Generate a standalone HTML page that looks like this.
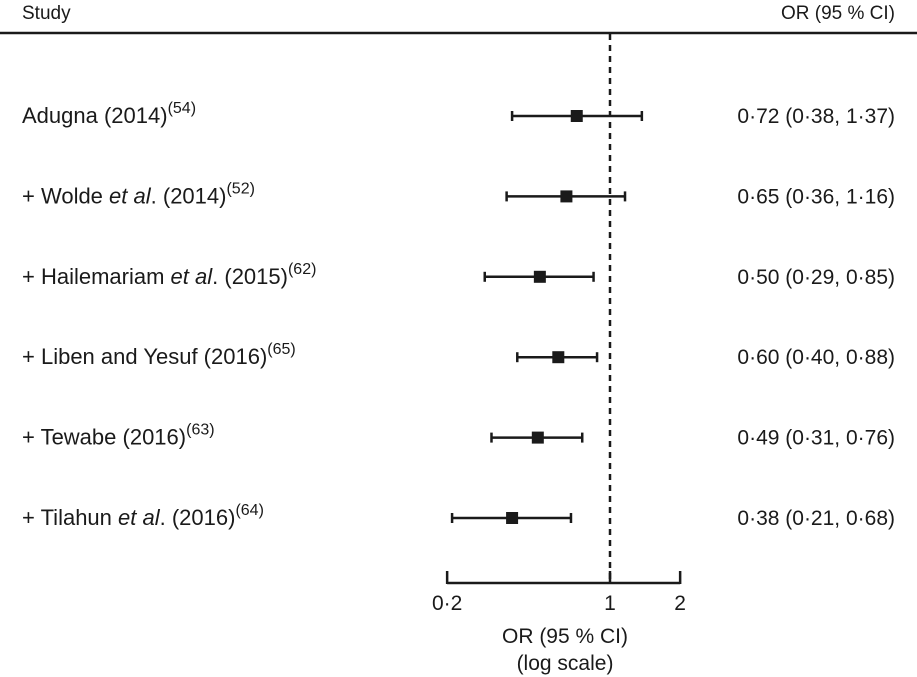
<!DOCTYPE html>
<html><head><meta charset="utf-8"><style>
html,body{margin:0;padding:0;background:#fff}
svg{display:block;font-family:"Liberation Sans",Arial,sans-serif;}
text{fill:#1a1a1a}
</style></head><body>
<svg id="chart" width="917" height="677" viewBox="0 0 917 677" xmlns="http://www.w3.org/2000/svg">
<text x="22" y="19" font-size="19">Study</text>
<text x="895" y="19" font-size="19" text-anchor="end">OR (95 % CI)</text>
<line x1="0" y1="33" x2="917" y2="33" stroke="#1a1a1a" stroke-width="2.5"/>
<g id="marks"></g>
<text x="565" y="643" font-size="21" text-anchor="middle">OR (95 % CI)</text>
<text x="565" y="670" font-size="21" text-anchor="middle">(log scale)</text>
</svg>
<script>
const studies = ["Adugna (2014)|54", "+ Wolde *et al*. (2014)|52", "+ Hailemariam *et al*. (2015)|62", "+ Liben and Yesuf (2016)|65", "+ Tewabe (2016)|63", "+ Tilahun *et al*. (2016)|64"];
const orValues = [0.72, 0.65, 0.50, 0.60, 0.49, 0.38];
const lowerCI = [0.38, 0.36, 0.29, 0.40, 0.31, 0.21];
const upperCI = [1.37, 1.16, 0.85, 0.88, 0.76, 0.68];
const tickValues = [0.2, 1, 2];
const tickLabels = ["0·2", "1", "2"];

const NS = "http://www.w3.org/2000/svg";
const g = document.getElementById("marks");
const x = v => 610 + Math.log10(v) * 233;
const y = i => 116 + i * 80.4;
function mk(tag, attrs, parent) {
  const e = document.createElementNS(NS, tag);
  for (const k in attrs) e.setAttribute(k, attrs[k]);
  (parent || g).appendChild(e);
  return e;
}
const fmt = v => v.toFixed(2).replace(".", "·");

const ref = mk("line", {x1: x(1), y1: 34, x2: x(1), y2: 583, stroke: "#1a1a1a", "stroke-width": 2.5, "stroke-dasharray": "6,5"});



studies.forEach((s, i) => {
  const yy = y(i);
  const [name, ref_] = s.split("|");
  const t = mk("text", {x: 22, y: yy + 7, "font-size": 22});
  
  
  name.split("*").forEach((part, j) => {
    if (!part) return;
    const sp = mk("tspan", {}, t);
    if (j % 2 === 1) sp.setAttribute("font-style", "italic");
    sp.textContent = part;
  });
  const sup = mk("tspan", {dy: -10, "font-size": 16}, t);
  sup.textContent = "(" + ref_ + ")";

  const ci = mk("line", {x1: x(lowerCI[i]), y1: yy, x2: x(upperCI[i]), y2: yy, stroke: "#1a1a1a", "stroke-width": 2.5});
  
  
  [lowerCI[i], upperCI[i]].forEach(v => {
    const c = mk("line", {x1: x(v), y1: yy - 5, x2: x(v), y2: yy + 5, stroke: "#1a1a1a", "stroke-width": 2.5});
    
    
  });
  const sq = mk("rect", {x: x(orValues[i]) - 6, y: yy - 6, width: 12, height: 12, fill: "#1a1a1a"});
  
  

  const v = mk("text", {x: 895, y: yy + 7, "font-size": 21, "text-anchor": "end"});
  
  
  v.textContent = fmt(orValues[i]) + " (" + fmt(lowerCI[i]) + ", " + fmt(upperCI[i]) + ")";
});

const ax = mk("line", {x1: x(tickValues[0]), y1: 583, x2: x(tickValues[tickValues.length - 1]), y2: 583, stroke: "#1a1a1a", "stroke-width": 2.5});


tickValues.forEach((v, i) => {
  const tk = mk("line", {x1: x(v), y1: 571, x2: x(v), y2: 584, stroke: "#1a1a1a", "stroke-width": 2.5});
  
  
  const tl = mk("text", {x: x(v), y: 610, "font-size": 21, "text-anchor": "middle"});
  
  
  tl.textContent = tickLabels[i];
});
</script>
</body></html>
